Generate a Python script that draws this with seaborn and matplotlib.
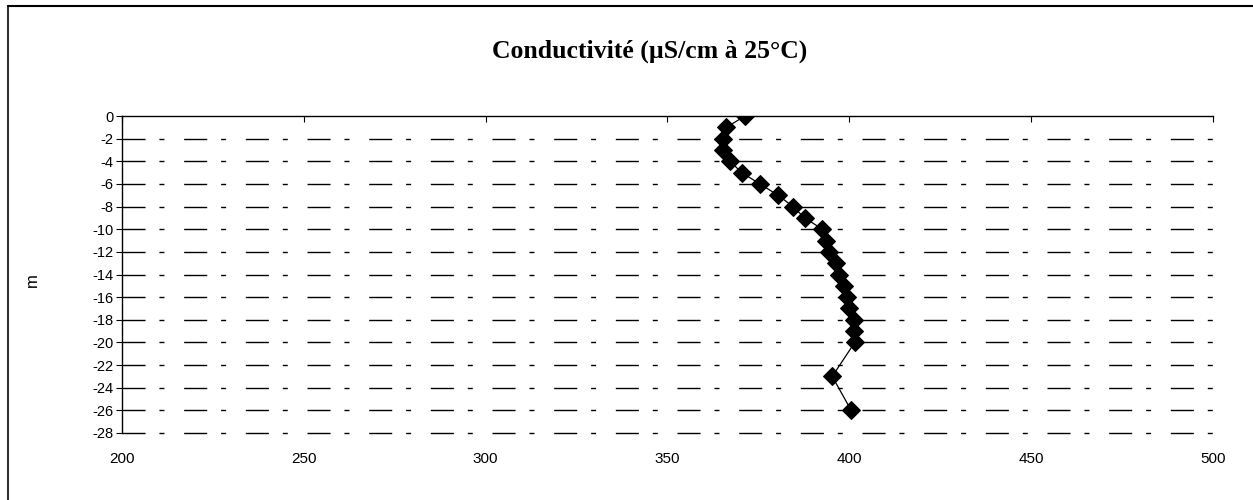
import matplotlib
matplotlib.use('Agg')
import matplotlib.pyplot as plt
import seaborn as sns
import pandas as pd
from matplotlib.lines import Line2D

# Profil de conductivité en fonction de la profondeur
profondeur = [0, -1, -2, -3, -4, -5, -6, -7, -8, -9, -10, -11, -12, -13,
              -14, -15, -16, -17, -18, -19, -20, -23, -26]
conductivite = [371.3, 366.2, 365.3, 365.3, 367.2, 370.4, 375.4, 380.4, 384.5,
                387.7, 392.6, 393.5, 394.4, 396.3, 397.2, 398.4, 399.3, 399.8,
                401.2, 401.2, 401.5, 395.3, 400.5]

x_ticks = [200, 250, 300, 350, 400, 450, 500]
y_ticks = list(range(0, -29, -2))

df = pd.DataFrame({'conductivite': conductivite, 'profondeur': profondeur})

sns.set_style('white')
plt.rcParams['font.family'] = ['Liberation Sans', 'DejaVu Sans']
plt.rcParams['text.color'] = 'black'
plt.rcParams['axes.labelcolor'] = 'black'
plt.rcParams['xtick.color'] = 'black'
plt.rcParams['ytick.color'] = 'black'

fig = plt.figure(figsize=(12.53, 5), dpi=100)
ax = fig.add_axes([122 / 1253, 1 - 433 / 500, (1213 - 122) / 1253, (433 - 116) / 500])

# grille pointillée (long - court), sous les points
ax.hlines(y_ticks[1:], 200, 500, colors='black', linewidth=1,
          linestyles=[(0, (16.6, 10, 3.6, 14.2))], clip_on=False, zorder=1)

sns.lineplot(data=df, x='conductivite', y='profondeur', sort=False, estimator=None,
             color='black', linewidth=0.9, marker='D', markersize=8.8,
             markeredgecolor='black', markerfacecolor='black', ax=ax, zorder=3)

ax.set_xlim(200, 500)
ax.set_ylim(-28, 0)
ax.set_xticks(x_ticks)
ax.set_yticks(y_ticks)
ax.set_yticklabels([str(v) for v in y_ticks], fontsize=10.5)
ax.set_xticklabels([str(v) for v in x_ticks], fontsize=11)

for s in ['right', 'bottom']:
    ax.spines[s].set_visible(False)
ax.spines['left'].set_color('black')
ax.spines['top'].set_color('black')
ax.spines['left'].set_linewidth(1)
ax.spines['top'].set_linewidth(1)

ax.tick_params(axis='y', left=True, direction='out', length=4, width=0.8, color='black',
               labelcolor='black', pad=2)
ax.tick_params(axis='x', top=True, bottom=False, labeltop=False, labelbottom=True,
               direction='in', length=4, width=0.8, color='black', labelcolor='black', pad=13.5)

ax.set_xlabel('')
ax.set_ylabel('m', fontsize=12, color='black')
ax.yaxis.set_label_coords((40 - 122) / 1091, (433 - 280) / 317)

fig.text(650 / 1253, 1 - 51 / 500, 'Conductivité (µS/cm à 25°C)', ha='center', va='center',
         fontsize=18.5, fontweight='bold', color='black',
         family=['Liberation Serif', 'DejaVu Serif'])

# cadre du graphique (haut et gauche)
fig.add_artist(Line2D([8 / 1253, 8 / 1253], [0, 1 - 6 / 500], transform=fig.transFigure,
                      color='#333333', linewidth=1.5))
fig.add_artist(Line2D([8 / 1253, 1], [1 - 6 / 500, 1 - 6 / 500], transform=fig.transFigure,
                      color='black', linewidth=1.5))

fig.savefig('out.png', dpi=100)
